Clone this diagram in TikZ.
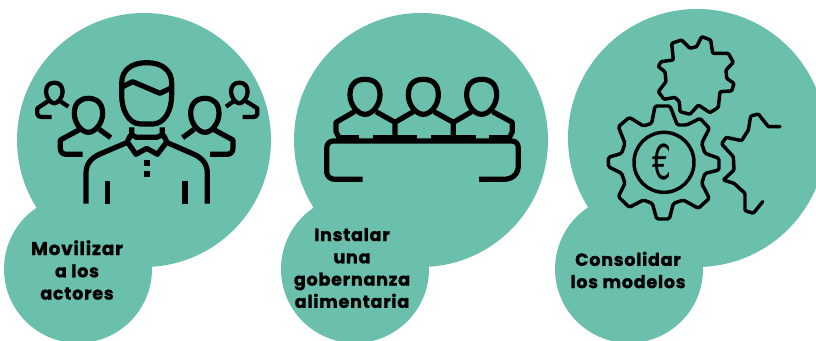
\documentclass[tikz,border=0pt]{standalone}
\usepackage{fontspec}
\setmainfont{Poppins}[BoldFont={Poppins Bold},BoldFeatures={FakeBold=1.2},LetterSpace=4]
\newfontfamily\eurofont{DejaVu Sans}
\definecolor{teal1}{HTML}{6BC0AD}
\tikzset{
  blob/.style={circle,fill=teal1,draw=none,inner sep=0pt,outer sep=0pt},
  big/.style={blob,minimum size=190.5pt},
  small/.style={blob,minimum size=111pt},
  label/.style={align=center,font=\fontsize{13.2}{16.7}\selectfont\bfseries,text=black,inner sep=0pt},
  icon/.style={draw=black,line width=3.9pt,line join=round,fill=none},
  iconsm/.style={draw=black,line width=3.2pt,line join=round,fill=none},
  thin/.style={draw=black,line width=2.6pt,line join=round,line cap=round,fill=none},
}
\begin{document}
\begin{tikzpicture}[x=0.75pt,y=-0.75pt]
\useasboundingbox (0,0) rectangle (816,341);
\clip (0,0) rectangle (816,341);
\node[big] (c1) at (144,140) {};
\node[big] (c2) at (421,140) {};
\node[big,minimum size=193.5pt] (c3) at (697,138) {};
\node[small] (s1) at (78,269) {};
\node[small] (s2) at (355,269) {};
\node[small] (s3) at (629,269) {};
\node[label] (t1) at (77,270) {\fontsize{13.8}{16.7}\selectfont Movilizar\\a los\\actores};
\node[label] (t2) at (352,268) {Instalar\\una\\gobernanza\\alimentaria};
\node[label] (t3) at (628,270) {Consolidar\\los modelos};
% icon 1
\begin{scope}[shift={(0,40)},x=0.25pt,y=-0.25pt]
\draw[icon] (420,252) .. controls (385,250) and (365,210) .. (365,165) -- (365,130) .. controls (365,90) and (395,68) .. (440,68) .. controls (485,68) and (515,90) .. (515,130) -- (515,165) .. controls (515,210) and (495,250) .. (460,252) -- cycle;
\draw[icon] (368,140) -- (398,125) -- (480,160) -- (515,143);
\draw[icon] (395,262) -- (395,285) -- (410,292) -- (470,292) -- (487,285) -- (487,262);
\draw[icon] (385,310) -- (408,343) -- (440,325) -- (472,343) -- (497,310);
\draw[icon] (392,285) -- (380,308) -- (300,342) .. controls (270,355) and (258,375) .. (258,400) -- (258,491);
\draw[icon] (490,285) -- (502,308) -- (580,342) .. controls (610,355) and (622,375) .. (622,400) -- (622,491);
\draw[icon] (323,423) -- (323,491);
\draw[icon] (555,423) -- (555,491);
\fill (431,360) rectangle (449,378);
\fill (431,393) rectangle (449,411);
% mid persons
\draw[icon] (265,175) .. controls (240,175) and (223,190) .. (223,220) .. controls (223,250) and (245,277) .. (265,277) .. controls (285,277) and (308,250) .. (308,220) .. controls (308,190) and (290,175) .. (265,175) -- cycle;
\draw[icon] (240,268) -- (181,300) -- (181,325) .. controls (181,338) and (190,343) .. (200,343) -- (248,343);
\draw[icon] (298,268) -- (332,293);
\draw[icon] (615,175) .. controls (590,175) and (572,190) .. (572,220) .. controls (572,250) and (595,277) .. (615,277) .. controls (635,277) and (657,250) .. (657,220) .. controls (657,190) and (640,175) .. (615,175) -- cycle;
\draw[icon] (640,268) -- (699,300) -- (699,325) .. controls (699,338) and (690,343) .. (680,343) -- (630,343);
\draw[icon] (582,268) -- (548,293);
% small persons
\draw[iconsm] (163,128) .. controls (148,128) and (138,138) .. (138,155) .. controls (138,172) and (152,190) .. (163,190) .. controls (174,190) and (188,172) .. (188,155) .. controls (188,138) and (178,128) .. (163,128) -- cycle;
\draw[iconsm] (145,183) -- (112,205) -- (112,222) .. controls (112,228) and (118,231) .. (125,231) -- (155,231);
\draw[iconsm] (180,183) -- (205,200);
\draw[iconsm] (718,128) .. controls (703,128) and (693,138) .. (693,155) .. controls (693,172) and (707,190) .. (718,190) .. controls (729,190) and (743,172) .. (743,155) .. controls (743,138) and (733,128) .. (718,128) -- cycle;
\draw[iconsm] (737,183) -- (772,205) -- (772,222) .. controls (772,228) and (766,231) .. (759,231) -- (728,231);
\draw[iconsm] (702,183) -- (678,200);
\end{scope}
% icon 2
\begin{scope}[shift={(300,60)},x=0.25pt,y=-0.25pt]
\foreach \hx in {195,370,545}{
\draw[icon] (\hx,58) .. controls ({\hx-30},58) and ({\hx-45},75) .. ({\hx-45},105) .. controls ({\hx-45},135) and ({\hx-22},163) .. (\hx,163) .. controls ({\hx+22},163) and ({\hx+45},135) .. ({\hx+45},105) .. controls ({\hx+45},75) and ({\hx+30},58) .. (\hx,58) -- cycle;
}
\draw[icon] (163,155) -- (108,187) -- (108,215) -- (118,235);
\draw[icon] (228,155) -- (285,187) -- (285,232);
\draw[icon] (285,187) -- (340,155);
\draw[icon] (402,155) -- (460,187) -- (460,232);
\draw[icon] (460,187) -- (515,155);
\draw[icon] (578,155) -- (637,187) -- (637,215) -- (627,235);
\fill (118,224) rectangle (178,245);
\fill (218,224) rectangle (352,245);
\fill (392,224) rectangle (528,245);
\fill (568,224) rectangle (630,245);
\draw[icon] (188,358) -- (105,358) .. controls (90,358) and (80,348) .. (80,335) -- (80,265) .. controls (80,250) and (90,243) .. (100,243) -- (635,243) .. controls (648,243) and (655,252) .. (655,265) -- (655,315) .. controls (655,345) and (635,358) .. (610,358) -- (537,358);
\end{scope}
% icon 3
\begin{scope}[shift={(590,20)},x=0.25pt,y=-0.25pt]
\draw[thin,rounded corners=1.2pt] (195,258) -- (240,258) -- (262,315) -- (290,315) -- (330,295) -- (358,325) -- (335,370) -- (345,400) -- (387,415) -- (387,450) -- (345,460) -- (335,490) -- (358,535) -- (325,565) -- (280,540) -- (250,550) -- (238,597) -- (200,597) -- (187,550) -- (160,540) -- (118,562) -- (85,530) -- (105,490) -- (95,460) -- (55,440) -- (55,412) -- (95,400) -- (105,370) -- (85,320) -- (118,292) -- (160,318) -- (185,310) -- cycle;
\node[circle,draw=black,line width=2.6pt,minimum size=45pt,inner sep=0pt] (euro) at (222,427) {};
\node[inner sep=0pt] (eurot) at (217,427) {\scalebox{0.62}[1]{\eurofont\fontsize{36}{36}\selectfont €}};
\draw[thin,rounded corners=0.8pt] (245,70) -- (275,60) -- (300,85) -- (320,80) -- (335,50) -- (362,60) -- (368,100) -- (415,100) -- (430,127) -- (408,150) -- (410,175) -- (432,190) -- (425,213) -- (390,215) -- (385,262) -- (360,278) -- (325,255) -- (300,283) -- (270,275) -- (268,245) -- (255,232) -- (222,238) -- (205,215) -- (228,185) -- (225,155) -- (205,140) -- (213,125) -- (250,120) -- cycle;
\draw[thin,rounded corners=0.8pt] (570,320) -- (535,320) -- (505,282) -- (482,288) -- (475,330) -- (455,362) -- (408,352) -- (395,372) -- (430,410) -- (432,450) -- (400,480) -- (432,490) -- (465,520) -- (465,572) -- (490,580) -- (518,545);
\end{scope}
\end{tikzpicture}
\end{document}
